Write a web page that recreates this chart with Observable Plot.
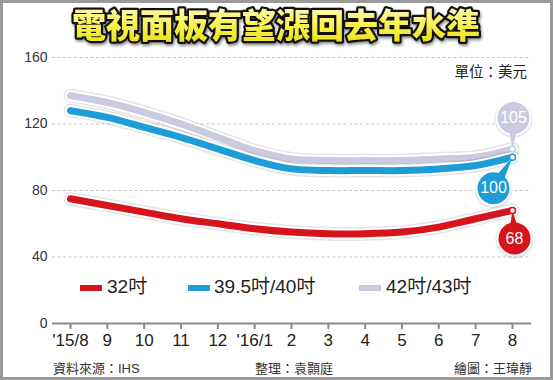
<!DOCTYPE html>
<html><head><meta charset="utf-8">
<script src="https://cdn.jsdelivr.net/npm/d3@7"></script>
<script src="https://cdn.jsdelivr.net/npm/@observablehq/plot@0.6"></script>
<style>
body{margin:0;background:#fff}
#chart{width:554px;height:380px;position:relative}
svg{display:block}
</style></head><body><div id="chart"></div>
<script>
const months = ["'15/8","9","10","11","12","'16/1","2","3","4","5","6","7","8"];
const seriesNames = ["32吋","39.5吋/40吋","42吋/43吋"];
const v32 = [75,71,67,63,60,57,55,54,54,55,58,63,68];
const v40 = [128,124,118,112,105,98,93,92,92,92,93,95,100];
const v43 = [137,133,127,120,112,104,99,98,98,98,99,100,105];
const yTicks = [0,40,80,120,160];
const titleText = "電視面板有望漲回去年水準";
const unitText = "單位：美元";
const footer = ["資料來源：IHS","整理：袁顥庭","繪圖：王瑋靜"];

const colors = ["#d7141c","#1e9cd7","#cacae0"];
const labelOffsets = [[2,28],[-19,31],[1,-31]];
const font = "'Liberation Sans','Noto Sans CJK TC',sans-serif";

const allSeries = [v32,v40,v43];
const seriesData = allSeries.map((vals,k)=>vals.map((v,i)=>({i, v, s: seriesNames[k]})));

const marks = [
  Plot.ruleY([40,80,120,160], {stroke:"#c4c4c4", strokeDasharray:"3,2.5", strokeWidth:1}),
  Plot.axisY({ticks:yTicks, tickSize:0, tickPadding:5, fontSize:14, fill:"#333", label:null}),
  Plot.ruleY([0], {stroke:"#8a8a8a", strokeWidth:2}),
  Plot.axisX({ticks:d3.range(months.length), tickFormat:i=>months[i], tickSize:6, tickPadding:4, fontSize:17, stroke:"#8a8a8a", strokeWidth:2, fill:"#222", label:null})
];
for (const k of [2,1,0]) {
  const d = seriesData[k];
  const base = {x:"i", y:"v", curve:"catmull-rom", strokeLinecap:"round", strokeLinejoin:"round"};
  marks.push(Plot.line(d, {...base, stroke:"#000", strokeOpacity:0.1, strokeWidth:14}));
  marks.push(Plot.line(d, {...base, stroke:"#fff", strokeWidth:11}));
  marks.push(Plot.line(d, {...base, stroke:colors[k], strokeWidth:7}));
}
for (const k of [2,1,0]) {
  const last = [seriesData[k][seriesData[k].length-1]];
  const [dx,dy] = labelOffsets[k];
  const L = Math.hypot(dx,dy);
  const rot = Math.atan2(-dx, dy)*180/Math.PI;
  marks.push(Plot.dot(last, {x:"i", y:"v", dx, dy:dy+1, r:19, fill:"#000", fillOpacity:0.1}));
  marks.push(Plot.vector(last, {x:"i", y:"v", anchor:"end", length:L+2, rotate:rot, shape:"spike", r:9, fill:"#fff", stroke:"none"}));
  marks.push(Plot.dot(last, {x:"i", y:"v", dx, dy, r:18, fill:"#fff"}));
  marks.push(Plot.vector(last, {x:"i", y:"v", anchor:"end", length:L, rotate:rot, shape:"spike", r:6.5, fill:colors[k], stroke:"none"}));
  marks.push(Plot.dot(last, {x:"i", y:"v", dx, dy, r:16, fill:colors[k]}));
  marks.push(Plot.dot(last, {x:"i", y:"v", r:3, fill:"#fff", stroke:colors[k], strokeWidth:1.5}));
  marks.push(Plot.text(last, {x:"i", y:"v", dx, dy, text:d=>String(d.v), fill:"#fff", fontSize:16}));
}

const plot = Plot.plot({
  width:554, height:380,
  marginLeft:52, marginRight:23, marginTop:57, marginBottom:57,
  x:{type:"linear", domain:[-0.489,12.516], label:null},
  y:{domain:[0,160], label:null},
  style:{fontFamily:font, background:"#fff"},
  marks
});
document.getElementById("chart").appendChild(plot);

const svg = d3.select(plot);
const defs = svg.append("defs");
const g = defs.append("linearGradient").attr("id","tg").attr("x1",0).attr("y1",0).attr("x2",0).attr("y2",1);
g.append("stop").attr("offset","0%").attr("stop-color","#fffbe0");
g.append("stop").attr("offset","50%").attr("stop-color","#faf257");
g.append("stop").attr("offset","100%").attr("stop-color","#e8dc00");

const cjk = "'Noto Sans CJK TC',sans-serif";
svg.append("text").text(titleText).attr("x",276).attr("y",29).attr("text-anchor","middle").attr("dominant-baseline","middle")
  .attr("font-family",cjk).attr("font-size",34).attr("font-weight",900)
  .attr("fill","url(#tg)").attr("stroke","#111").attr("stroke-width",4.5).attr("stroke-linejoin","round").attr("paint-order","stroke")
  .style("filter","drop-shadow(1.5px 2px 1.5px rgba(0,0,0,0.45))");

svg.append("text").text(unitText).attr("x",527).attr("y",73).attr("text-anchor","end").attr("dominant-baseline","middle")
  .attr("font-family",font).attr("font-size",14.5).attr("fill","#222");

const fpos = [[53,"start"],[255,"start"],[532,"end"]];
footer.forEach((t,j)=>svg.append("text").text(t).attr("x",fpos[j][0]).attr("y",370).attr("text-anchor",fpos[j][1])
  .attr("dominant-baseline","middle").attr("font-family",font).attr("font-size",13).attr("fill","#333"));

const legPos = [[80,107],[188,214],[359,386]];
seriesNames.forEach((n,k)=>{
  svg.append("rect").attr("x",legPos[k][0]).attr("y",285).attr("width",22).attr("height",6).attr("fill",colors[k]);
  svg.append("text").text(n).attr("x",legPos[k][1]).attr("y",288).attr("text-anchor","start").attr("dominant-baseline","middle")
    .attr("font-family",font).attr("font-size",19).attr("fill","#222");
});

svg.append("rect").attr("x",1.5).attr("y",1.5).attr("width",550).attr("height",377)
  .attr("fill","none").attr("stroke","#9a9a9a").attr("stroke-width",3);
</script></body></html>
